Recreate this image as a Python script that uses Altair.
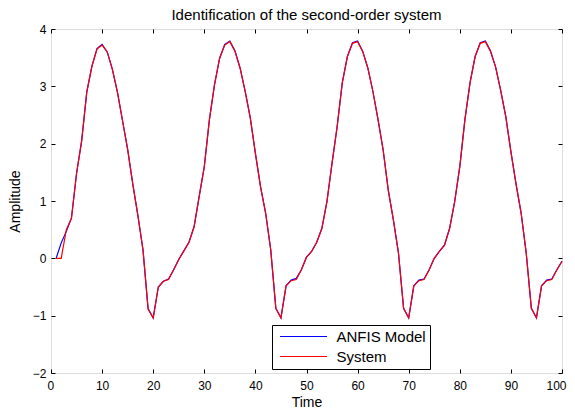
import altair as alt
import pandas as pd

# ---- data ----
time = list(range(1, 101))

system = [
    0.00, 0.00, 0.50, 0.70, 1.48, 2.05, 2.90, 3.35, 3.65, 3.72,
    3.60, 3.30, 2.90, 2.40, 1.90, 1.30, 0.75, 0.15, -0.88, -1.04,
    -0.50, -0.40, -0.37, -0.20, -0.02, 0.13, 0.28, 0.55, 1.08, 1.60,
    2.42, 3.03, 3.49, 3.72, 3.78, 3.61, 3.32, 2.91, 2.45, 1.83,
    1.25, 0.79, 0.15, -0.87, -1.04, -0.48, -0.39, -0.37, -0.20, 0.02,
    0.12, 0.28, 0.52, 0.99, 1.66, 2.30, 3.06, 3.52, 3.75, 3.78,
    3.61, 3.32, 2.91, 2.42, 1.89, 1.19, 0.67, 0.09, -0.87, -1.04,
    -0.48, -0.39, -0.37, -0.20, 0.00, 0.12, 0.23, 0.52, 0.99, 1.60,
    2.42, 3.06, 3.52, 3.75, 3.78, 3.61, 3.34, 2.93, 2.47, 1.86,
    1.30, 0.79, 0.09, -0.87, -1.04, -0.48, -0.39, -0.37, -0.20, -0.05,
]

anfis = [
    0.00, 0.27, 0.47, 0.70, 1.48, 2.05, 2.90, 3.35, 3.66, 3.73,
    3.60, 3.30, 2.90, 2.40, 1.90, 1.30, 0.75, 0.15, -0.88, -1.04,
    -0.50, -0.40, -0.36, -0.20, -0.02, 0.13, 0.28, 0.55, 1.08, 1.60,
    2.42, 3.03, 3.49, 3.73, 3.79, 3.62, 3.32, 2.91, 2.45, 1.83,
    1.25, 0.79, 0.15, -0.87, -1.04, -0.48, -0.38, -0.35, -0.20, 0.02,
    0.12, 0.28, 0.52, 0.99, 1.66, 2.30, 3.06, 3.52, 3.76, 3.79,
    3.61, 3.32, 2.91, 2.42, 1.89, 1.19, 0.67, 0.09, -0.87, -1.04,
    -0.48, -0.38, -0.36, -0.20, 0.00, 0.12, 0.23, 0.52, 0.99, 1.60,
    2.42, 3.06, 3.52, 3.76, 3.79, 3.62, 3.34, 2.93, 2.47, 1.86,
    1.30, 0.79, 0.09, -0.87, -1.04, -0.48, -0.38, -0.36, -0.20, -0.05,
]

series_names = ["ANFIS Model", "System"]
series_colors = ["#0000FF", "#FF0000"]
x_ticks = list(range(0, 101, 10))
y_ticks = list(range(-2, 5))

df = pd.DataFrame({
    "Time": time + time,
    "Amplitude": anfis + system,
    "series": [series_names[0]] * len(time) + [series_names[1]] * len(time),
})

FONT = "Liberation Sans"
xs = alt.Scale(domain=[0, 100], nice=False, zero=False)
ys = alt.Scale(domain=[-2, 4], nice=False, zero=False)

main = alt.Chart(df).mark_line(strokeWidth=1.2).encode(
    x=alt.X("Time:Q", scale=xs, axis=alt.Axis(
        orient="bottom", values=x_ticks, ticks=False, tickSize=0, domain=False, grid=False,
        labelFlush=True, labelFlushOffset=4, labelPadding=7, labelFontSize=12,
        labelFont=FONT, labelColor="black",
        title="Time", titleFontSize=14, titleFont=FONT, titleColor="black",
        titleFontWeight="normal", titlePadding=4)),
    y=alt.Y("Amplitude:Q", scale=ys, axis=alt.Axis(
        orient="left", values=y_ticks, ticks=False, tickSize=0, domain=False, grid=False,
        labelFlush=False, labelPadding=5, labelFontSize=12, labelFont=FONT, labelColor="black",
        title="Amplitude", titleFontSize=14, titleFont=FONT, titleColor="black",
        titleFontWeight="normal", titlePadding=10)),
    color=alt.Color("series:N", scale=alt.Scale(domain=series_names, range=series_colors),
                    legend=alt.Legend(
                        title=None, orient="none", legendX=221, legendY=296,
                        symbolType="M -1.4 0 L 8 0", symbolSize=100, symbolStrokeWidth=1,
                        symbolOffset=3.5, labelOffset=42, labelFontSize=15, labelFont=FONT,
                        labelColor="black", padding=4, rowPadding=4,
                        strokeColor="black", fillColor="white", cornerRadius=0)),
)


def tick_axis(orient, values):
    return alt.Axis(orient=orient, offset=-4, values=values, labels=False, domain=False,
                    grid=False, ticks=True, tickSize=4, tickColor="black", tickWidth=1,
                    minExtent=0, maxExtent=0, title=None)


ticks_bl = alt.Chart(df).mark_line(strokeOpacity=0).encode(
    x=alt.X("Time:Q", scale=xs, axis=tick_axis("bottom", x_ticks)),
    y=alt.Y("Amplitude:Q", scale=ys, axis=tick_axis("left", y_ticks)),
    detail="series:N",
)

ticks_tr = alt.Chart(df).mark_line(strokeOpacity=0).encode(
    x=alt.X("Time:Q", scale=xs, axis=tick_axis("top", x_ticks)),
    y=alt.Y("Amplitude:Q", scale=ys, axis=tick_axis("right", y_ticks)),
    detail="series:N",
)

chart = alt.layer(main, ticks_bl, ticks_tr).resolve_axis(
    x="independent", y="independent"
).properties(
    width=511,
    height=344,
    title=alt.TitleParams("Identification of the second-order system", fontSize=15,
                          font=FONT, fontWeight="normal", color="black", offset=0,
                          anchor="middle"),
    autosize=alt.AutoSizeParams(type="none"),
    padding={"left": 43, "top": 21, "right": 5, "bottom": 35},
).configure_view(
    stroke="black", strokeWidth=1
).configure(background="white")

chart.save("out.html", embed_options={"renderer": "svg", "actions": False})
